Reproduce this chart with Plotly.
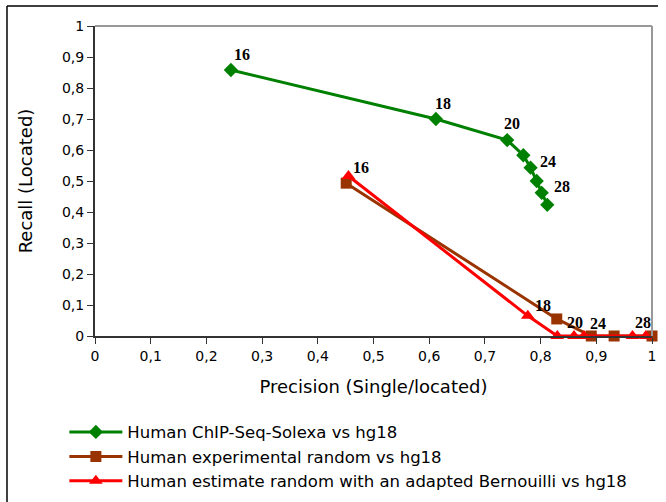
import plotly.graph_objects as go

# Data
k_labels = ["16", "18", "20", "22", "24", "26", "28", "30"]

green_name = "Human ChIP-Seq-Solexa vs hg18"
green_prec = [0.244, 0.612, 0.740, 0.769, 0.782, 0.793, 0.802, 0.812]
green_rec = [0.858, 0.700, 0.632, 0.583, 0.543, 0.500, 0.462, 0.423]

brown_name = "Human experimental random vs hg18"
brown_prec = [0.451, 0.829, 0.891, 0.932, 1.0]
brown_rec = [0.493, 0.055, 0.0, 0.0, 0.0]

red_name = "Human estimate random with an adapted Bernouilli vs hg18"
red_prec = [0.455, 0.777, 0.830, 0.860, 0.878, 0.965, 0.989]
red_rec = [0.516, 0.065, 0.0, 0.0, 0.0, 0.0, 0.0]

tick_vals = [0, 0.1, 0.2, 0.3, 0.4, 0.5, 0.6, 0.7, 0.8, 0.9, 1]
tick_text = ["0", "0,1", "0,2", "0,3", "0,4", "0,5", "0,6", "0,7", "0,8", "0,9", "1"]

fig = go.Figure()
fig.add_trace(go.Scatter(x=green_prec, y=green_rec, mode="lines+markers", name=green_name,
                         line=dict(color="#008000", width=3),
                         marker=dict(symbol="diamond", size=11, color="#008000"),
                         cliponaxis=False))
fig.add_trace(go.Scatter(x=brown_prec, y=brown_rec, mode="lines+markers", name=brown_name,
                         line=dict(color="#993300", width=3),
                         marker=dict(symbol="square", size=11, color="#993300"),
                         cliponaxis=False))
fig.add_trace(go.Scatter(x=red_prec, y=red_rec, mode="lines+markers", name=red_name,
                         line=dict(color="#ff0000", width=3),
                         marker=dict(symbol="triangle-up", size=12, color="#ff0000"),
                         cliponaxis=False))

lab_font = dict(family="Liberation Serif", size=16, color="black")
annots = []
def lab(x, y, text, dx, dy):
    annots.append(dict(x=x, y=y, xref="x", yref="y", text="<b>%s</b>" % text, showarrow=False,
                       xshift=dx, yshift=dy, font=lab_font))

# green labels
lab(green_prec[0], green_rec[0], k_labels[0], 11, 16)
lab(green_prec[1], green_rec[1], k_labels[1], 7, 16)
lab(green_prec[2], green_rec[2], k_labels[2], 5, 17)
lab(green_prec[4], green_rec[4], k_labels[4], 17, 6)
lab(green_prec[6], green_rec[6], k_labels[6], 20, 6)
# red / brown labels
lab(red_prec[0], red_rec[0], k_labels[0], 13, 9)
lab(red_prec[1], red_rec[1], k_labels[1], 15, 10)
lab(red_prec[2], red_rec[2], k_labels[2], 18, 14)
lab(brown_prec[2], brown_rec[2], k_labels[4], 7, 13)
lab(red_prec[6], red_rec[6], k_labels[6], -3, 14)

shapes = [
    dict(type="line", xref="paper", yref="paper", x0=0, x1=1, y0=1, y1=1,
         line=dict(color="#999999", width=2)),
    dict(type="line", xref="paper", yref="paper", x0=1, x1=1, y0=0, y1=1,
         line=dict(color="#999999", width=2)),
    dict(type="line", xref="paper", yref="paper", x0=-0.158, x1=1.0108, y0=1.0645, y1=1.0645,
         line=dict(color="black", width=1.5)),
    dict(type="line", xref="paper", yref="paper", x0=-0.158, x1=-0.158, y0=1.0645, y1=-0.6,
         line=dict(color="black", width=1.5)),
]

axis_common = dict(range=[0, 1], tickvals=tick_vals, ticktext=tick_text, showgrid=False,
                   zeroline=False, showline=True, linecolor="#333333", linewidth=2,
                   ticks="outside", ticklen=6, tickcolor="#333333", tickwidth=1,
                   tickfont=dict(family="DejaVu Sans", size=14, color="black"))

fig.update_layout(
    width=666, height=502,
    margin=dict(l=95, r=14, t=26, b=166, autoexpand=False),
    paper_bgcolor="white", plot_bgcolor="white",
    xaxis=dict(title=dict(text="Precision (Single/located)", standoff=18,
                          font=dict(family="DejaVu Sans", size=18, color="black")), **axis_common),
    yaxis=dict(title=dict(text="Recall (Located)", standoff=25,
                          font=dict(family="DejaVu Sans", size=18, color="black")), **axis_common),
    legend=dict(x=-0.055, y=-0.254, xanchor="left", yanchor="top", tracegroupgap=0,
                font=dict(family="DejaVu Sans", size=16.5, color="black"), itemwidth=53,
                bgcolor="rgba(0,0,0,0)"),
    annotations=annots,
    shapes=shapes,
    showlegend=True,
)

fig.write_html("out.html")
